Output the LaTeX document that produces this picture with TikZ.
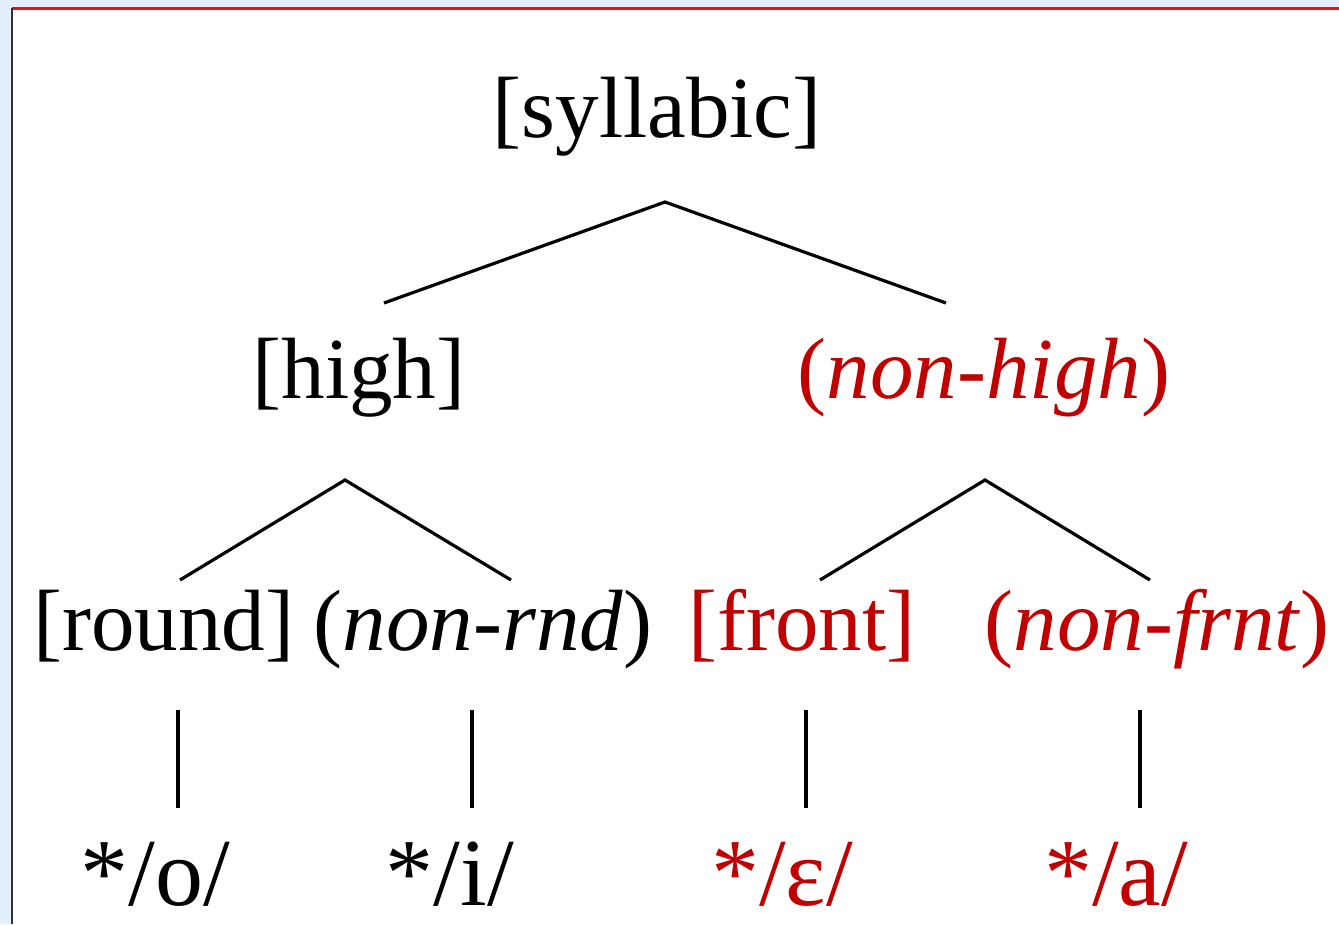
\documentclass[tikz,border=0pt]{standalone}
\usepackage{fontspec}
\setmainfont{Liberation Serif}
\definecolor{bgblue}{HTML}{E3F0FC}
\definecolor{topred}{HTML}{E3141B}
\definecolor{edge}{HTML}{333333}
\definecolor{txtred}{HTML}{C00000}
\begin{document}
\begin{tikzpicture}[x=1pt,y=-1pt,
  lbl/.style={anchor=base,inner sep=0pt,font=\fontsize{87}{90}\selectfont},
  leaf/.style={anchor=base,inner sep=0pt,font=\fontsize{96}{100}\selectfont},
  redlbl/.style={lbl,text=txtred},
  redleaf/.style={leaf,text=txtred},
  branch/.style={draw=black,line width=3.2pt}]
\useasboundingbox (0,0) rectangle (1339,924);
\clip (0,0) rectangle (1339,924);
\fill[bgblue] (0,0) rectangle (1339,924);
\fill[white] (12,10) rectangle (1339,924);
\draw[topred,line width=2.5pt] (12,8.5) -- (1339,8.5);
\draw[edge,line width=2pt] (11.5,8) -- (11.5,924);
% nodes
\node[lbl] (syl) at (657,137) {[syllabic]};
\node[lbl] (high) at (359,398) {[high]};
\node[redlbl] (nhigh) at (984,398) {(\textit{non-high})};
\node[lbl] (round) at (164,650) {[round]};
\node[lbl] (nrnd) at (483,650) {(\textit{non-rnd})};
\node[redlbl] (front) at (802,650) {[front]};
\node[redlbl] (nfrnt) at (1157,650) {(\textit{non-frnt})};
\node[leaf] (o) at (155,905) {*/o/};
\node[leaf] (i) at (450,905) {*/i/};
\node[redleaf] (eps) at (782,905) {*/ɛ/};
\node[redleaf] (a) at (1116,905) {*/a/};
% connector ends
\coordinate (sylB) at (665,202);
\coordinate (highT) at (384,303);
\coordinate (nhighT) at (946,303);
\coordinate (highB) at (345,480);
\coordinate (roundT) at (180,580);
\coordinate (nrndT) at (511,580);
\coordinate (nhighB) at (985,480);
\coordinate (frontT) at (820,580);
\coordinate (nfrntT) at (1150,580);
\coordinate (roundB) at (178,710);
\coordinate (oT) at (178,808);
\coordinate (nrndB) at (472,710);
\coordinate (iT) at (472,808);
\coordinate (frontB) at (806,710);
\coordinate (epsT) at (806,808);
\coordinate (nfrntB) at (1140,710);
\coordinate (aT) at (1140,808);
\draw[branch] (highT) -- (sylB) -- (nhighT);
\draw[branch] (roundT) -- (highB) -- (nrndT);
\draw[branch] (frontT) -- (nhighB) -- (nfrntT);
\draw[branch] (roundB) -- (oT);
\draw[branch] (nrndB) -- (iT);
\draw[branch] (frontB) -- (epsT);
\draw[branch] (nfrntB) -- (aT);
\end{tikzpicture}
\end{document}
